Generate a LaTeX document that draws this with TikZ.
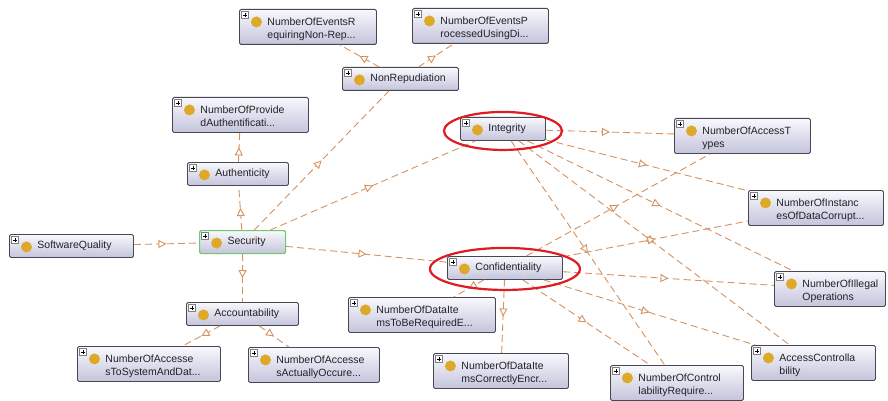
\documentclass[tikz,border=0pt]{standalone}
\usepackage{fontspec}
\setmainfont{Liberation Sans}
\usetikzlibrary{calc}
\usetikzlibrary{arrows.meta}
\usetikzlibrary{decorations.markings}
\definecolor{edgecol}{RGB}{214,146,96}
\definecolor{clsline}{RGB}{72,72,84}
\definecolor{clstop}{RGB}{248,248,253}
\definecolor{clsbot}{RGB}{196,196,220}
\definecolor{clsdot}{RGB}{222,168,40}
\definecolor{clstext}{RGB}{34,34,40}
\definecolor{selgreen}{RGB}{110,200,110}
\definecolor{hilite}{RGB}{222,28,36}
\tikzset{cls/.style={rectangle, draw=clsline, line width=0.9pt, rounded corners=1.5pt,
    top color=clstop, bottom color=clsbot, anchor=north west, minimum height=23pt,
    text width=#1, align=left, inner xsep=4pt, inner ysep=5pt, text=clstext,
    font=\fontsize{10.5}{13}\selectfont, execute at begin node={\leftskip=24pt\relax},
    path picture={
        \fill [clsdot] ($(path picture bounding box.north west)+(17,12.5)$) circle (5.5pt);
        \draw [sharp corners, draw=gray, fill=white, line width=0.5pt]
            ($(path picture bounding box.north west)+(2,2)$) rectangle +(7,7);
        \draw [sharp corners, black, line width=0.5pt]
            ($(path picture bounding box.north west)+(3.5,5.5)$) -- +(4,0)
            ($(path picture bounding box.north west)+(5.5,3.5)$) -- +(0,4);
    }}}
\tikzset{tall/.style={text height=11.5pt, text depth=13.5pt}}
\tikzset{sel/.style={draw=selgreen, line width=1.2pt}}
\tikzset{isa/.style={draw=edgecol, line width=0.9pt, dash pattern=on 7pt off 4pt,
    postaction={decorate}, decoration={markings, mark=at position 0.5 with
    {\arrow{Triangle[length=8pt, width=8pt, fill=white]}}}}}
\tikzset{ring/.style={draw=hilite, line width=2.2pt}}

\begin{document}
\begin{tikzpicture}[x=1pt, y=-1pt]
    \useasboundingbox (0,0) rectangle (888,401);
    \fill [white] (0,0) rectangle (888,401);

    % ------- Security and its parent ------- %
    \node [cls=116pt] (swq) at (9,234) {SoftwareQuality};
    \node [cls=78pt, sel] (sec) at (199,230) {Security};

    % ------- Authenticity ------- %
    \node [cls=93pt] (auth) at (187,162) {Authenticity};
    \node [cls=128pt, tall] (provAuth) at (172,97) {NumberOfProvide\\dAuthentificati...};

    % ------- NonRepudiation ------- %
    \node [cls=108pt] (nonRep) at (342,67) {NonRepudiation};
    \node [cls=129pt, tall] (evR) at (239,9) {NumberOfEventsR\\equiringNon-Rep...};
    \node [cls=128pt, tall] (evP) at (412,8) {NumberOfEventsP\\rocessedUsingDi...};

    % ------- Accountability ------- %
    \node [cls=104pt] (acc) at (186,302) {Accountability};
    \node [cls=135pt, tall] (accSys) at (77,346) {NumberOfAccesse\\sToSystemAndDat...};
    \node [cls=123pt, tall] (accOcc) at (248,347) {NumberOfAccesse\\sActuallyOccure...};

    % ------- Integrity and Confidentiality ------- %
    \node [cls=77pt] (integ) at (460,117) {Integrity};
    \node [cls=107pt] (conf) at (447,256) {Confidentiality};

    \node [cls=128pt, tall] (accTypes) at (674,118) {NumberOfAccessT\\ypes};
    \node [cls=127pt, tall] (instCorr) at (748,190) {NumberOfInstanc\\esOfDataCorrupt...};
    \node [cls=103pt, tall] (illegal) at (774,271) {NumberOfIllegal\\Operations};
    \node [cls=116pt, tall] (accCtrl) at (751,345) {AccessControlla\\bility};
    \node [cls=125pt, tall] (ctrlReq) at (610,365) {NumberOfControl\\labilityRequire...};
    \node [cls=127pt, tall] (dataEnc) at (433,353) {NumberOfDataIte\\msCorrectlyEncr...};
    \node [cls=139pt, tall] (dataReq) at (348,297) {NumberOfDataIte\\msToBeRequiredE...};

    % Subclass links, parent to child.
    \draw [isa] (swq) -- (sec);
    \draw [isa] (sec) -- (auth);
    \draw [isa] (auth) -- (provAuth);
    \draw [isa] (sec) -- (nonRep);
    \draw [isa] (nonRep) -- (evR);
    \draw [isa] (nonRep) -- (evP);
    \draw [isa] (sec) -- (integ);
    \draw [isa] (sec) -- (conf);
    \draw [isa] (sec) -- (acc);
    \draw [isa] (acc) -- (accSys);
    \draw [isa] (acc) -- (accOcc);

    \draw [isa] (integ) -- (accTypes);
    \draw [isa] (integ) -- (instCorr);
    \draw [isa] (integ) -- (illegal);
    \draw [isa] (integ) -- (accCtrl);
    \draw [isa] (integ) -- (ctrlReq);

    \draw [isa] (conf) -- (accTypes);
    \draw [isa] (conf) -- (instCorr);
    \draw [isa] (conf) -- (illegal);
    \draw [isa] (conf) -- (accCtrl);
    \draw [isa] (conf) -- (ctrlReq);
    \draw [isa] (conf) -- (dataEnc);
    \draw [isa] (conf) -- (dataReq);

    % The red rings round the two highlighted classes.
    \draw [ring] ($(integ)+(0,2)$) ellipse [x radius=59pt, y radius=19pt];
    \draw [ring] ($(conf)+(0,1)$) ellipse [x radius=75pt, y radius=21pt];
\end{tikzpicture}
\end{document}
